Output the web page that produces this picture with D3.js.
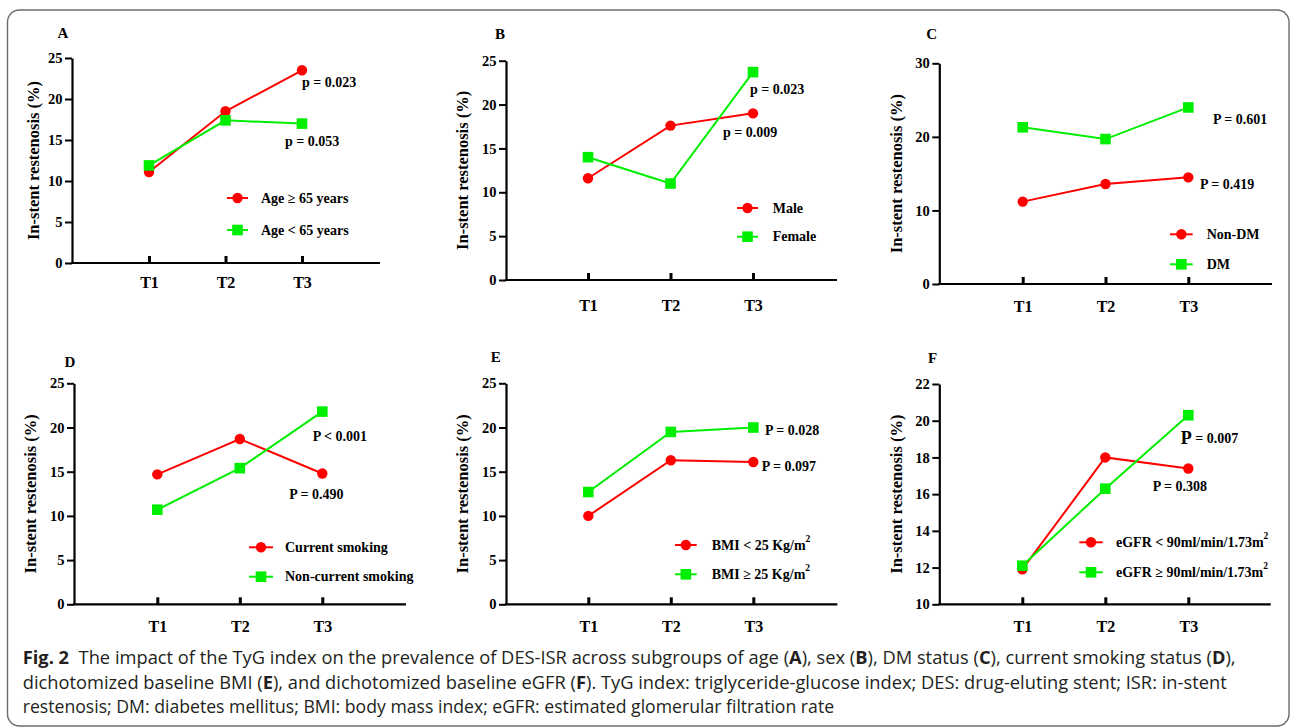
<!DOCTYPE html>
<html>
<head>
<meta charset="utf-8">
<script src="https://cdn.jsdelivr.net/npm/d3@7"></script>
<style>
  html, body { margin: 0; padding: 0; background: #fff; }
  svg { display: block; }
</style>
</head>
<body>
<svg id="chart" width="1290" height="727"></svg>
<script>
// ---------------- DATA ----------------
const categories = ["T1", "T2", "T3"];

// Panel A: age
const ageHigh = [11.1, 18.5, 23.5];   // Age ≥ 65 years
const ageLow  = [11.9, 17.4, 17.0];   // Age < 65 years
// Panel B: sex
const male    = [11.6, 17.6, 19.0];
const female  = [14.0, 11.0, 23.7];
// Panel C: DM status
const nonDM   = [11.2, 13.6, 14.5];
const dm      = [21.3, 19.7, 24.0];
// Panel D: smoking
const currentSmoking    = [14.7, 18.7, 14.8];
const nonCurrentSmoking = [10.7, 15.4, 21.8];
// Panel E: BMI
const bmiLow  = [10.0, 16.3, 16.1];
const bmiHigh = [12.7, 19.5, 20.0];
// Panel F: eGFR
const egfrLow  = [11.9, 18.0, 17.4];
const egfrHigh = [12.1, 16.3, 20.3];

// tick labels
const yTicks25 = [0, 5, 10, 15, 20, 25];
const yTicks30 = [0, 10, 20, 30];
const yTicksF  = [10, 12, 14, 16, 18, 20, 22];

const panelLetters = ["A", "B", "C", "D", "E", "F"];
const legendLabels = [
  ["Age \u2265 65 years", "Age < 65 years"],
  ["Male", "Female"],
  ["Non-DM", "DM"],
  ["Current smoking", "Non-current smoking"],
  [["BMI < 25 Kg/m", "2"], ["BMI \u2265 25 Kg/m", "2"]],
  [["eGFR < 90ml/min/1.73m", "2"], ["eGFR \u2265 90ml/min/1.73m", "2"]]
];
const pLabels = [
  ["p = 0.023", "p = 0.053"],
  ["p = 0.023", "p = 0.009"],
  ["P = 0.601", "P = 0.419"],
  ["P < 0.001", "P = 0.490"],
  ["P = 0.028", "P = 0.097"],
  ["P = 0.007", "P = 0.308"]
];
const yTitle = "In-stent restenosis (%)";
const captionLines = [
  [["Fig. 2", true], ["  The impact of the TyG index on the prevalence of DES-ISR across subgroups of age (", false], ["A", true], ["), sex (", false], ["B", true], ["), DM status (", false], ["C", true], ["), current smoking status (", false], ["D", true], ["),", false]],
  [["dichotomized baseline BMI (", false], ["E", true], ["), and dichotomized baseline eGFR (", false], ["F", true], ["). TyG index: triglyceride-glucose index; DES: drug-eluting stent; ISR: in-stent", false]],
  [["restenosis; DM: diabetes mellitus; BMI: body mass index; eGFR: estimated glomerular filtration rate", false]]
];

// ---------------- LAYOUT ----------------
const RED = "#ff0000", GREEN = "#00ee00";
const panels = [
  { series: [ageHigh, ageLow], domain: [0, 25], ticks: yTicks25,
    x0: 72, xEnd: 380, yB: 263, yT: 58, t1: 149, t3: 302, lab: 19,
    letter: [63, 33], titleX: 33,
    leg: { lx1: 227, lx2: 248, tx: 261, y: [198, 230] },
    pv: [[302, 82], [285, 141]] },
  { series: [male, female], domain: [0, 25], ticks: yTicks25,
    x0: 506, xEnd: 837, yB: 280, yT: 60.7, t1: 588, t3: 753, lab: 25,
    letter: [500, 34], titleX: 462,
    leg: { lx1: 737, lx2: 758, tx: 772.7, y: [208, 236.7] },
    pv: [[750, 89], [723, 132]] },
  { series: [nonDM, dm], domain: [0, 30], ticks: yTicks30,
    x0: 939.3, xEnd: 1272, yB: 284, yT: 63.3, t1: 1022.7, t3: 1188.3, lab: 22,
    letter: [931.7, 34], titleX: 896,
    leg: { lx1: 1170, lx2: 1192.7, tx: 1206.7, y: [234.3, 264.3] },
    pv: [[1213, 119.3], [1200, 184.3]] },
  { series: [currentSmoking, nonCurrentSmoking], domain: [0, 25], ticks: yTicks25,
    x0: 74, xEnd: 406, yB: 604.3, yT: 383.3, t1: 157.3, t3: 322.3, lab: 22,
    letter: [70, 361.7], titleX: 30.7,
    leg: { lx1: 249, lx2: 273, tx: 285, y: [547.3, 576.7] },
    pv: [[312.7, 436], [289.3, 494.3]] },
  { series: [bmiLow, bmiHigh], domain: [0, 25], ticks: yTicks25,
    x0: 506, xEnd: 837.3, yB: 604.3, yT: 383.3, t1: 588.3, t3: 753.3, lab: 22,
    letter: [495.7, 356.7], titleX: 462.3,
    leg: { lx1: 675, lx2: 696.7, tx: 711.7, y: [545, 574.3] },
    pv: [[765, 430], [761.7, 466]] },
  { series: [egfrLow, egfrHigh], domain: [10, 22], ticks: yTicksF,
    x0: 939.3, xEnd: 1270.7, yB: 604.3, yT: 384, t1: 1022.3, t3: 1188.3, lab: 22,
    letter: [932.7, 358.3], titleX: 896,
    leg: { lx1: 1079.3, lx2: 1102.7, tx: 1116, y: [542.3, 572.3] },
    pv: [[1180.7, 438.3], [1152.7, 486.7]] }
];

const svg = d3.select("#chart");
const FONT = "'Liberation Serif', 'Times New Roman', serif";

// frame
svg.append("rect")
  .attr("x", 7.5).attr("y", 10).attr("width", 1281.5).attr("height", 716)
  .attr("rx", 12).attr("ry", 12)
  .attr("fill", "none").attr("stroke", "#6b6b6b").attr("stroke-width", 1.4);

function drawMarker(g, kind, cx, cy, color) {
  if (kind === 0) {
    g.append("circle").attr("cx", cx).attr("cy", cy).attr("r", 5.2).attr("fill", color);
  } else {
    g.append("rect").attr("x", cx - 5.3).attr("y", cy - 5.3)
      .attr("width", 10.6).attr("height", 10.6).attr("fill", color);
  }
}

panels.forEach((p, i) => {
  const g = svg.append("g");
  const x = d3.scalePoint().domain(categories).range([p.t1, p.t3]);
  const y = d3.scaleLinear().domain(p.domain).range([p.yB, p.yT]);

  // y axis
  const ya = g.append("g").attr("transform", `translate(${p.x0},0)`)
    .call(d3.axisLeft(y).tickValues(p.ticks).tickSize(7).tickSizeOuter(0).tickPadding(2.5));
  ya.select(".domain").attr("stroke", "#000").attr("stroke-width", 2.2);
  ya.selectAll(".tick line").attr("stroke", "#000").attr("stroke-width", 2);
  ya.selectAll(".tick text").attr("font-family", FONT).attr("font-weight", "bold")
    .attr("font-size", 14.5).attr("fill", "#000");

  // x axis baseline
  g.append("line").attr("x1", p.x0 - 1).attr("x2", p.xEnd)
    .attr("y1", p.yB).attr("y2", p.yB).attr("stroke", "#000").attr("stroke-width", 2.2);
  const xa = g.append("g").attr("transform", `translate(0,${p.yB})`)
    .call(d3.axisBottom(x).tickSize(-7).tickSizeOuter(0));
  xa.select(".domain").remove();
  xa.selectAll(".tick line").attr("stroke", "#000").attr("stroke-width", 3);
  xa.selectAll(".tick text").attr("y", p.lab).attr("dy", "0.35em")
    .attr("font-family", FONT).attr("font-weight", "bold")
    .attr("font-size", 16).attr("fill", "#000");

  // y title
  g.append("text")
    .attr("transform", `translate(${p.titleX},${(p.yB + p.yT) / 2}) rotate(-90)`)
    .attr("text-anchor", "middle").attr("dominant-baseline", "central")
    .attr("font-family", FONT).attr("font-weight", "bold").attr("font-size", 16.5)
    .text(yTitle);

  // panel letter
  g.append("text").attr("x", p.letter[0]).attr("y", p.letter[1])
    .attr("text-anchor", "middle").attr("dominant-baseline", "central")
    .attr("font-family", FONT).attr("font-weight", "bold").attr("font-size", 15)
    .text(panelLetters[i]);

  // series
  const colors = [RED, GREEN];
  const line = d3.line().x((d, k) => x(categories[k])).y(d => y(d));
  p.series.forEach((s, si) => {
    g.append("path").datum(s).attr("d", line).attr("fill", "none")
      .attr("stroke", colors[si]).attr("stroke-width", 2);
  });
  p.series.forEach((s, si) => {
    s.forEach((v, k) => drawMarker(g, si, x(categories[k]), y(v), colors[si]));
  });

  // legend
  legendLabels[i].forEach((lab, li) => {
    const ly = p.leg.y[li];
    g.append("line").attr("x1", p.leg.lx1).attr("x2", p.leg.lx2)
      .attr("y1", ly).attr("y2", ly).attr("stroke", colors[li]).attr("stroke-width", 2);
    drawMarker(g, li, (p.leg.lx1 + p.leg.lx2) / 2, ly, colors[li]);
    const t = g.append("text").attr("x", p.leg.tx).attr("y", ly)
      .attr("dominant-baseline", "central")
      .attr("font-family", FONT).attr("font-weight", "bold").attr("font-size", 14);
    if (Array.isArray(lab)) {
      t.append("tspan").text(lab[0]);
      t.append("tspan").attr("dy", -6).attr("font-size", 9.5).text(lab[1]);
    } else {
      t.text(lab);
    }
  });

  // p values
  pLabels[i].forEach((lab, li) => {
    const t = g.append("text").attr("x", p.pv[li][0]).attr("y", p.pv[li][1])
      .attr("dominant-baseline", "central")
      .attr("font-family", FONT).attr("font-weight", "bold").attr("font-size", 14);
    if (i === 5 && li === 0) {
      t.append("tspan").attr("font-size", 18).text(lab.slice(0, 1));
      t.append("tspan").text(lab.slice(1));
    } else {
      t.text(lab);
    }
  });
});

// caption
const capFont = "'Open Sans', 'Noto Sans', sans-serif";
const capBase = [663.5, 688.5, 713];
const capTargets = [1214, 1205, 812];
captionLines.forEach((parts, li) => {
  const grp = svg.append("g");
  const t = grp.append("text").attr("x", 0).attr("y", 0)
    .attr("font-family", capFont).attr("font-size", 17.5).attr("fill", "#231f20")
    .attr("xml:space", "preserve").style("white-space", "pre");
  parts.forEach(([s, b]) => {
    t.append("tspan").attr("font-weight", b ? "bold" : "normal").text(s);
  });
  const w = t.node().getComputedTextLength();
  const k = capTargets[li] / w;
  grp.attr("transform", `translate(22.7,${capBase[li]}) scale(${k},1)`);
});
</script>
</body>
</html>
